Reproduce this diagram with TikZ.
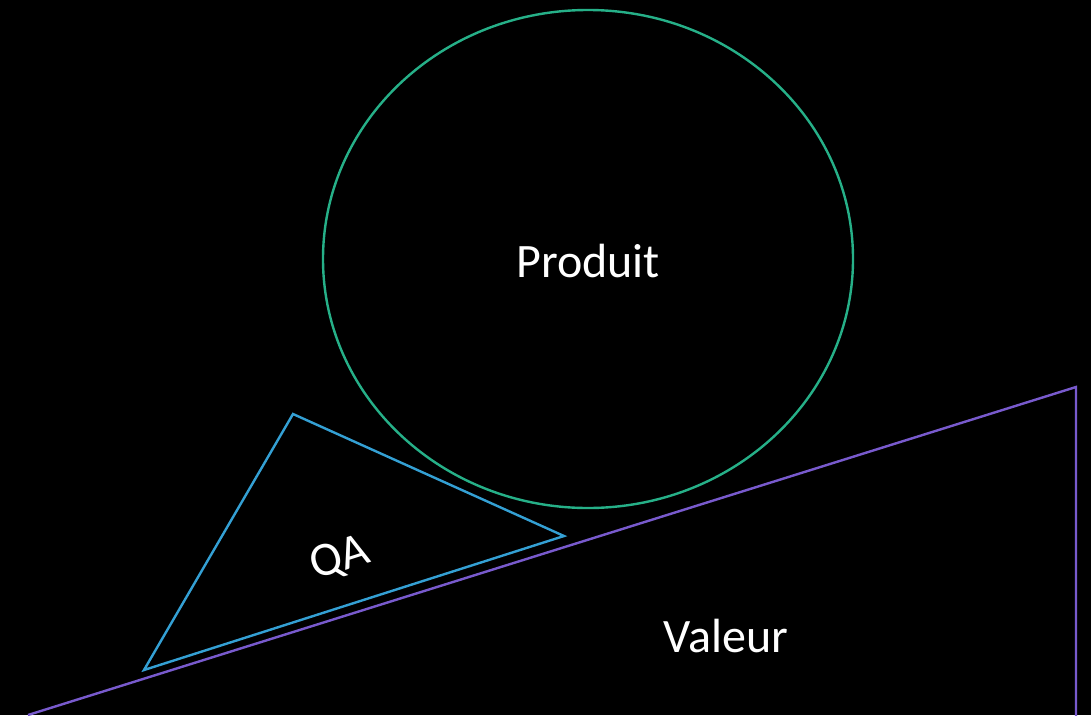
\documentclass[tikz,border=0pt]{standalone}
\usepackage{fontspec}
\setmainfont{Carlito}
\usetikzlibrary{shapes.geometric}
\definecolor{prodgreen}{RGB}{38,176,136}
\definecolor{qablue}{RGB}{52,160,212}
\definecolor{valpurple}{RGB}{120,90,205}
\tikzset{
  shapeline/.style={line width=2.4pt, line join=miter},
  lbl/.style={text=white, font=\fontsize{48}{52}\selectfont, inner sep=0pt}
}
\begin{document}
\begin{tikzpicture}[x=1pt,y=-1pt]
\fill[black] (0,0) rectangle (1091,715);
\useasboundingbox (0,0) rectangle (1091,715);
% Valeur wedge
\coordinate (v1) at (28,715);
\coordinate (v2) at (1076,387);
\coordinate (v3) at (1076,716);
\draw[shapeline, valpurple] (v1) -- (v2) -- (v3);
% QA triangle
\coordinate (q1) at (293,414);
\coordinate (q2) at (564,536);
\coordinate (q3) at (144,670);
\draw[shapeline, qablue] (q1) -- (q2) -- (q3) -- cycle;
% Produit ellipse
\node[draw=prodgreen, line width=2.4pt, ellipse, minimum width=530pt, minimum height=498pt, inner sep=0pt] (prod) at (588,259) {};
\node[lbl] (ptext) at (588,261) {Produit};
\node[lbl, rotate=17.8] (qatext) at (340,559) {QA};
\node[lbl] (vtext) at (726,636) {Valeur};
\end{tikzpicture}
\end{document}
